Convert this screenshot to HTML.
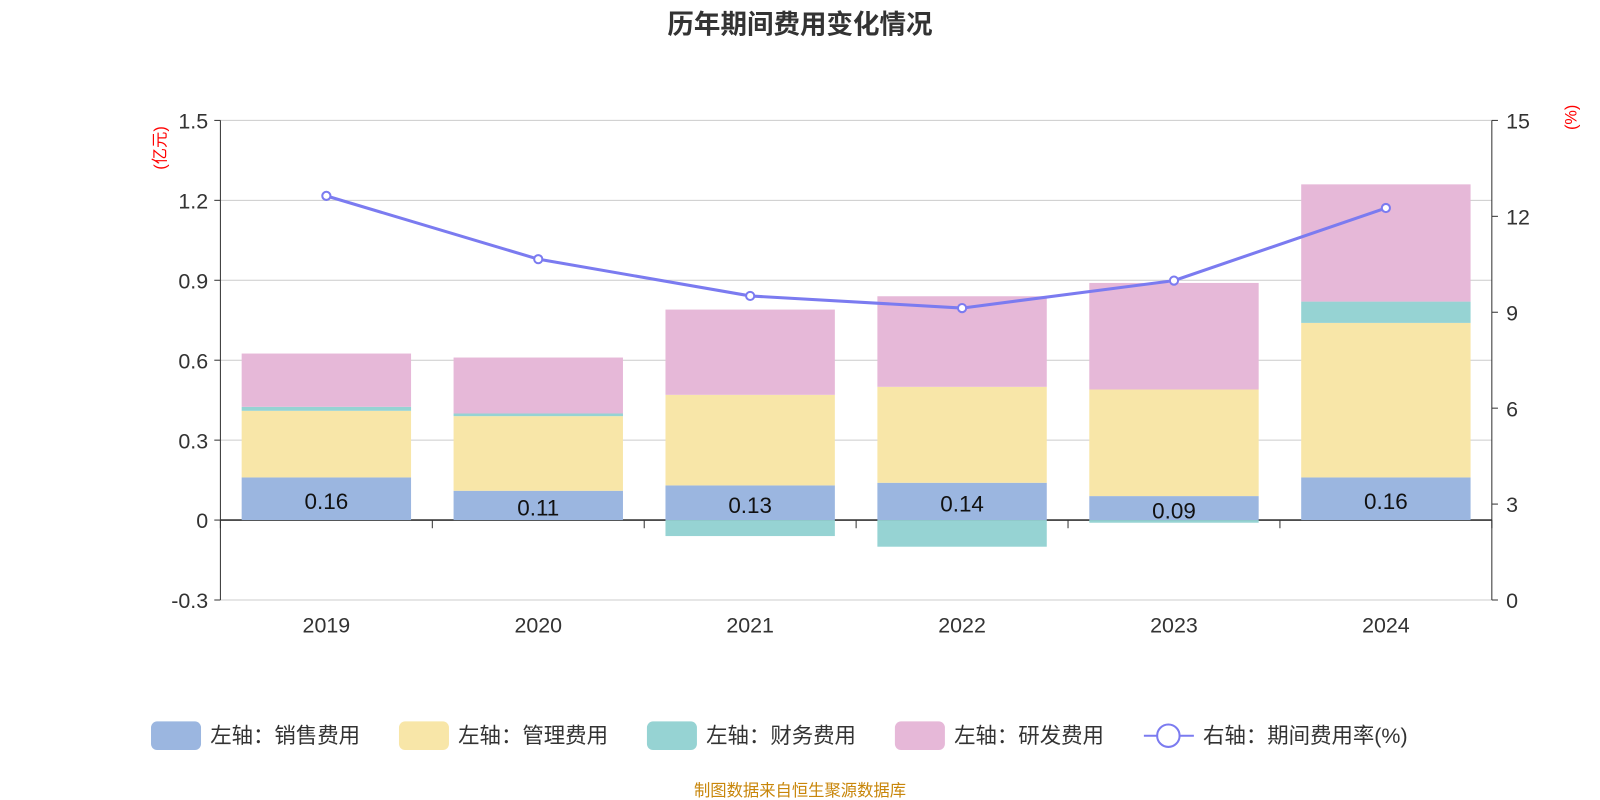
<!DOCTYPE html>
<html><head><meta charset="utf-8"><style>
body{margin:0;background:#fff;font-family:"Liberation Sans","Noto Sans CJK SC",sans-serif}
svg{display:block}
svg text{font-family:"Liberation Sans","Noto Sans CJK SC",sans-serif}
</style></head><body>
<svg id="c" width="1600" height="800" viewBox="0 0 1568 784" xmlns="http://www.w3.org/2000/svg">
<text x="784" y="33" text-anchor="middle" font-size="26" font-weight="bold" fill="#333">历年期间费用变化情况</text>
<text transform="translate(162,145) rotate(-90)" text-anchor="middle" font-size="16" fill="red">(亿元)</text>
<text transform="translate(1545,115) rotate(-90)" text-anchor="middle" font-size="16" fill="red">(%)</text>
<g id="grid"></g><g id="bars"></g><g id="axes"></g><g id="line"></g>
<g id="legend"></g>
<text x="784" y="780" text-anchor="middle" font-size="16" fill="#c8860a">制图数据来自恒生聚源数据库</text>
</svg>
<script>
const categories=["2019","2020","2021","2022","2023","2024"];
const sales=[0.16,0.11,0.13,0.14,0.09,0.16];
const admin=[0.25,0.28,0.34,0.36,0.40,0.58];
const finance=[0.015,0.01,-0.06,-0.10,-0.01,0.08];
const rnd=[0.20,0.21,0.32,0.34,0.40,0.44];
const rate=[12.64,10.66,9.51,9.13,9.99,12.26];
const leftTicks=[-0.3,0,0.3,0.6,0.9,1.2,1.5];
const rightTicks=[0,3,6,9,12,15];
const NS="http://www.w3.org/2000/svg";
const L=216,R=1462,T=118,B=588;
const yL=v=>B-(v+0.3)/1.8*(B-T);
const yR=v=>B-v/15*(B-T);
const bw=(R-L)/categories.length;
const xC=i=>L+bw*(i+0.5);
function mk(p,tag,a){const e=document.createElementNS(NS,tag);for(const k in a)e.setAttribute(k,a[k]);document.getElementById(p).appendChild(e);return e;}
leftTicks.forEach(t=>{const y=yL(t);
const g=mk('grid','line',{x1:L,x2:R,y1:y,y2:y,stroke:t===0?'#333':'#ccc','stroke-width':t===0?1.5:1});

const tx=mk('axes','text',{x:L-12,y:y+8,'text-anchor':'end','font-size':21,fill:'#333'});tx.textContent=t===0?'0':t.toFixed(1);

mk('axes','line',{x1:L-6,x2:L,y1:y,y2:y,stroke:'#333'});});
rightTicks.forEach(t=>{const y=yR(t);
const tx=mk('axes','text',{x:R+14,y:y+8,'font-size':21,fill:'#333'});tx.textContent=t;

mk('axes','line',{x1:R,x2:R+6,y1:y,y2:y,stroke:'#333'});});
mk('axes','line',{x1:L,x2:L,y1:T,y2:B,stroke:'#333'});
mk('axes','line',{x1:R,x2:R,y1:T,y2:B,stroke:'#333'});
for(let i=0;i<=categories.length;i++){mk('axes','line',{x1:L+bw*i,x2:L+bw*i,y1:yL(0),y2:yL(0)+8,stroke:'#333'});}
const colors=['#9bb6e0','#f8e6a8','#96d3d3','#e6b8d8'];
const series=[sales,admin,finance,rnd];
categories.forEach((c,i)=>{
const tx=mk('axes','text',{x:xC(i),y:620,'text-anchor':'middle','font-size':21,fill:'#333'});tx.textContent=c;

let pos=0,neg=0;const w=166;
series.forEach((s,k)=>{const v=s[i];let y0,y1;
if(v>=0){y0=pos;y1=pos+v;pos=y1;}else{y0=neg+v;y1=neg;neg=y0;}
const r=mk('bars','rect',{x:xC(i)-w/2,y:yL(y1),width:w,height:yL(y0)-yL(y1),fill:colors[k]});
});
const lb=mk('bars','text',{x:xC(i),y:(yL(0)+yL(sales[i]))/2+10,'text-anchor':'middle','font-size':22,fill:'#111'});
lb.textContent=sales[i].toFixed(2);
});
const pl=mk('line','polyline',{points:rate.map((v,i)=>xC(i)+','+yR(v)).join(' '),fill:'none',stroke:'#7b7bf0','stroke-width':3});

rate.forEach((v,i)=>{const p=mk('line','circle',{cx:xC(i),cy:yR(v),r:4,fill:'#fff',stroke:'#7b7bf0','stroke-width':2});
});
const items=[['左轴：销售费用',148],['左轴：管理费用',391],['左轴：财务费用',634],['左轴：研发费用',877]];
items.forEach((it,k)=>{const r=mk('legend','rect',{x:it[1],y:707,width:49,height:28,rx:6,fill:colors[k]});

const t=mk('legend','text',{x:it[1]+58,y:728,'font-size':21,fill:'#333'});t.textContent=it[0];
});
mk('legend','line',{x1:1121,x2:1170,y1:721,y2:721,stroke:'#7b7bf0','stroke-width':2});
mk('legend','circle',{cx:1145,cy:721,r:11,fill:'#fff',stroke:'#7b7bf0','stroke-width':2});
const t5=mk('legend','text',{x:1179,y:728,'font-size':21,fill:'#333'});t5.textContent='右轴：期间费用率(%)';

</script></body></html>
